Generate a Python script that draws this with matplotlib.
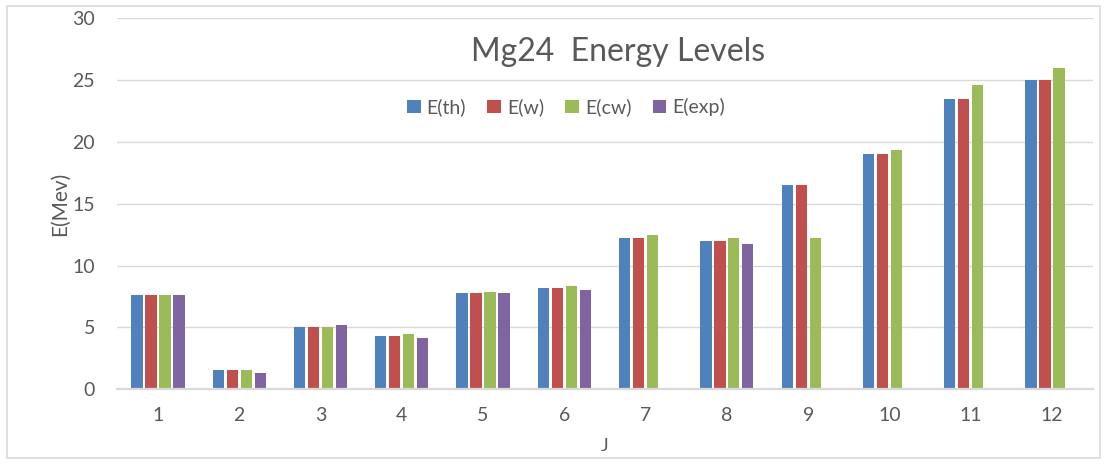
import numpy as np
import matplotlib
matplotlib.use("Agg")
import matplotlib.pyplot as plt
from matplotlib.patches import Rectangle

plt.rcParams['font.family'] = ['Lato', 'DejaVu Sans']

# data
J = [1, 2, 3, 4, 5, 6, 7, 8, 9, 10, 11, 12]
E_th = [7.6, 1.55, 5.0, 4.3, 7.8, 8.2, 12.2, 12.0, 16.5, 19.0, 23.5, 25.0]
E_w = [7.6, 1.55, 5.0, 4.3, 7.8, 8.2, 12.2, 12.0, 16.5, 19.0, 23.5, 25.0]
E_cw = [7.6, 1.55, 5.05, 4.5, 7.9, 8.35, 12.45, 12.2, 12.2, 19.35, 24.6, 26.0]
E_exp = [7.6, 1.3, 5.2, 4.15, 7.8, 8.05, np.nan, 11.75, np.nan, np.nan, np.nan, np.nan]

series = [("E(th)", E_th, "#4F81BD"),
          ("E(w)", E_w, "#C0504D"),
          ("E(cw)", E_cw, "#9BBB59"),
          ("E(exp)", E_exp, "#8064A2")]

fig = plt.figure(figsize=(11.07, 4.70), dpi=100)
ax = fig.add_axes([0.106, 0.1717, 0.881, 0.7893])

x = np.arange(len(J))
step = 0.172
w = 0.138
for i, (name, vals, col) in enumerate(series):
    ax.bar(x + (i - 1.5) * step, vals, width=w, color=col, label=name, zorder=3)

ax.set_xlim(-0.5, len(J) - 0.5)
ax.set_ylim(0, 30)
ax.set_yticks(range(0, 31, 5))
ax.set_xticks(x)
ax.set_xticklabels([str(j) for j in J])
ax.grid(axis='y', color='#d9d9d9', linewidth=1.0, zorder=0)
for s in ['top', 'right', 'left']:
    ax.spines[s].set_visible(False)
ax.spines['bottom'].set_color('#d9d9d9')
ax.spines['bottom'].set_linewidth(1.6)
ax.spines['bottom'].set_zorder(4)
ax.tick_params(axis='both', length=0, colors='#595959', labelsize=14)
ax.tick_params(axis='y', pad=16)
ax.tick_params(axis='x', pad=13)

ax.set_ylabel("E(Mev)", color='#595959', fontsize=15, labelpad=2)
ax.set_xlabel("J", color='#595959', fontsize=13, labelpad=10)

fig.text(0.558, 0.89, "Mg24  Energy Levels", ha='center', va='center',
         fontsize=23, color='#595959')

leg = ax.legend(loc='center', bbox_to_anchor=(0.46, 0.76), ncol=4, frameon=False,
                fontsize=14, handlelength=0.7, handleheight=0.7,
                handletextpad=0.3, columnspacing=1.1)
for t in leg.get_texts():
    t.set_color('#595959')

fig.patches.append(Rectangle((0.006, 0.025), 0.988, 0.962, transform=fig.transFigure,
                             fill=False, edgecolor='#d9d9d9', linewidth=1.2))

fig.savefig("out.png", dpi=100)
